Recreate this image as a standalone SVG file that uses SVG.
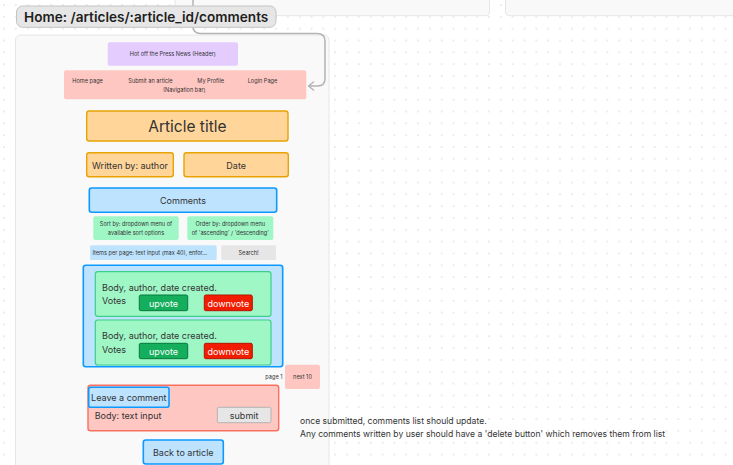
<svg xmlns="http://www.w3.org/2000/svg" width="733" height="465" viewBox="0 0 733 465">
<defs>
<pattern id="dots" x="-1.915" y="-0.915" width="11.83" height="11.83" patternUnits="userSpaceOnUse">
<circle cx="5.915" cy="5.915" r="0.65" fill="#c9c9c9"/>
</pattern>
<marker id="chev" viewBox="0 0 10 10" refX="9" refY="5" markerWidth="10" markerHeight="10" markerUnits="userSpaceOnUse" orient="auto">
<path d="M4,1 L9,5 L4,9" fill="none" stroke="#b3b3b3" stroke-width="1.5" stroke-linecap="round" stroke-linejoin="round"/>
</marker>
<style>
text{font-family:Inter,"Noto Sans","Liberation Sans",sans-serif;fill:#1e1e1e}
.frame{fill:#f9f9f9;stroke:#e6e6e6;stroke-width:1}
.c{text-anchor:middle;dominant-baseline:central}
.l{dominant-baseline:central}
.tiny{font-size:5.6px;fill:#333}
.sm{font-size:9px}
.blue{fill:#bde3ff;stroke:#0d99ff;stroke-width:1.6}
.orange{fill:#ffd59a;stroke:#e8a302;stroke-width:1.4}
.pink{fill:#ffc7c2}
.green{fill:#9ff7c6}
.card{fill:#9ff7c6;stroke:#3ccf8a;stroke-width:1.2}
.up{fill:#14ae5c;stroke:#067a3c;stroke-width:1}
.down{fill:#f21d00;stroke:#b31400;stroke-width:1}
.white{fill:#ffffff}
</style>
</defs>
<rect width="733" height="465" fill="#ffffff"/>
<rect width="733" height="465" fill="url(#dots)"/>
<g id="frames">
<rect class="frame" x="175" y="-10" width="314.5" height="25.7" rx="4"/>
<rect class="frame" x="505.5" y="-10" width="240" height="25.7" rx="4"/>
<rect class="frame" x="15.5" y="35" width="313.5" height="440" rx="5"/>
</g>
<g id="connectors">
<path d="M193,-2 V26 Q193,33.5 200.5,33.5 H317 Q325,33.5 325,41 V78.5 Q325,86 317.5,86 H308.5" fill="none" stroke="#b3b3b3" stroke-width="1.5" marker-end="url(#chev)"/>
</g>
<g id="title">
<rect x="16.5" y="6" width="259.5" height="21.3" rx="6" fill="#e6e6e6" stroke="#c4c4c4" stroke-width="1"/>
<text x="146.2" y="16.8" class="c" style="font-size:13.6px;font-weight:600">Home: /articles/:article_id/comments</text>
</g>
<g id="header">
<rect x="107.7" y="42.3" width="130.3" height="23.4" rx="2" fill="#e4ccff"/>
<text x="172.8" y="54.2" class="c tiny">Hot off the Press News (Header)</text>
</g>
<g id="navbar">
<rect x="64" y="70.3" width="242.3" height="29" rx="2" class="pink"/>
<text x="72.3" y="80.7" class="l tiny">Home page</text>
<text x="128.3" y="80.7" class="l tiny">Submit an article</text>
<text x="197.3" y="80.7" class="l tiny">My Profile</text>
<text x="247.7" y="80.7" class="l tiny">Login Page</text>
<text x="163" y="89.5" class="l tiny">(Navigation bar)</text>
</g>
<g id="article-title">
<rect x="86.7" y="111" width="201.3" height="30" rx="2.5" class="orange"/>
<text x="187.4" y="126.6" class="c" style="font-size:15.5px;fill:#333">Article title</text>
</g>
<g id="author">
<rect x="86.7" y="152.7" width="86.6" height="24" rx="2.5" class="orange"/>
<text x="130" y="165" class="c sm" style="fill:#333">Written by: author</text>
</g>
<g id="date">
<rect x="184" y="152.7" width="104.3" height="24" rx="2.5" class="orange"/>
<text x="236.2" y="165" class="c sm" style="fill:#333">Date</text>
</g>
<g id="comments-heading">
<rect x="89.3" y="188" width="187.4" height="24.3" rx="2.5" class="blue"/>
<text x="183" y="200.5" class="c sm" style="fill:#333">Comments</text>
</g>
<g id="sort-by">
<rect x="93.3" y="216.3" width="85.4" height="23.7" rx="2" class="green"/>
<text x="136" y="223.5" class="c tiny">Sort by:  dropdown menu of</text>
<text x="136" y="232.7" class="c tiny">available sort options</text>
</g>
<g id="order-by">
<rect x="187.3" y="216.3" width="86" height="23.7" rx="2" class="green"/>
<text x="230.3" y="223.5" class="c tiny">Order by:  dropdown menu</text>
<text x="230.3" y="232.7" class="c tiny">of 'ascending' / 'descending'</text>
</g>
<g id="items-per-page">
<rect x="90" y="245.3" width="126.7" height="14.7" rx="1.5" fill="#bde3ff"/>
<text x="92.5" y="253" class="l tiny">Items per page: text input (max 40), enfor...</text>
</g>
<g id="search">
<rect x="221.3" y="245.3" width="54.7" height="14.7" rx="1.5" fill="#e6e6e6"/>
<text x="248.6" y="253" class="c tiny">Search!</text>
</g>
<g id="comments-list">
<rect x="83.3" y="265.3" width="199.4" height="101.4" rx="2.5" class="blue"/>
</g>
<g id="comment-1">
<rect x="95.3" y="271.7" width="175.7" height="44.6" rx="2.5" class="card"/>
<text x="102" y="287.8" class="l sm" style="fill:#333">Body, author, date created.</text>
<text x="102" y="300.7" class="l sm" style="fill:#333">Votes</text>
<rect x="139.3" y="295" width="48.4" height="15.7" rx="1.5" class="up"/>
<text x="163.5" y="303" class="c sm white">upvote</text>
<rect x="204.3" y="295" width="48" height="15.7" rx="1.5" class="down"/>
<text x="228.3" y="303" class="c sm white">downvote</text>
</g>
<g id="comment-2">
<rect x="95.3" y="320" width="175.7" height="45" rx="2.5" class="card"/>
<text x="102" y="335.8" class="l sm" style="fill:#333">Body, author, date created.</text>
<text x="102" y="349.3" class="l sm" style="fill:#333">Votes</text>
<rect x="139.3" y="343.3" width="48.4" height="15.4" rx="1.5" class="up"/>
<text x="163.5" y="351.2" class="c sm white">upvote</text>
<rect x="204.3" y="343.3" width="48" height="15.4" rx="1.5" class="down"/>
<text x="228.3" y="351.2" class="c sm white">downvote</text>
</g>
<g id="page-indicator">
<text x="282.5" y="376.7" class="l tiny" style="text-anchor:end">page 1</text>
</g>
<g id="next-10">
<rect x="285" y="364.7" width="35" height="24.3" rx="2" class="pink"/>
<text x="302.5" y="376.8" class="c tiny">next 10</text>
</g>
<g id="leave-comment-form">
<rect x="88" y="385.3" width="190.7" height="45.4" rx="2.5" fill="#ffc7c2" stroke="#f9705f" stroke-width="1.4"/>
<text x="94.7" y="415" class="l sm" style="fill:#333">Body: text input</text>
<rect x="217.3" y="407.3" width="53.7" height="15.4" rx="1.5" fill="#e6e6e6" stroke="#b3b3b3" stroke-width="1"/>
<text x="244.1" y="415.2" class="c sm" style="fill:#333">submit</text>
</g>
<g id="leave-comment">
<rect x="88.7" y="387.3" width="80.3" height="20" rx="2" class="blue"/>
<text x="128.8" y="397.5" class="c sm" style="fill:#333">Leave a comment</text>
</g>
<g id="back-to-article">
<rect x="143.3" y="440" width="80" height="24" rx="2.5" class="blue"/>
<text x="183.3" y="452.3" class="c sm" style="fill:#333">Back to article</text>
</g>
<g id="notes">
<text x="300" y="420.7" class="l" style="font-size:8.6px;fill:#333">once submitted, comments list should update.</text>
<text x="300" y="434.3" class="l" style="font-size:8.6px;fill:#333">Any comments written by user should have a 'delete button' which removes them from list</text>
</g>
</svg>
